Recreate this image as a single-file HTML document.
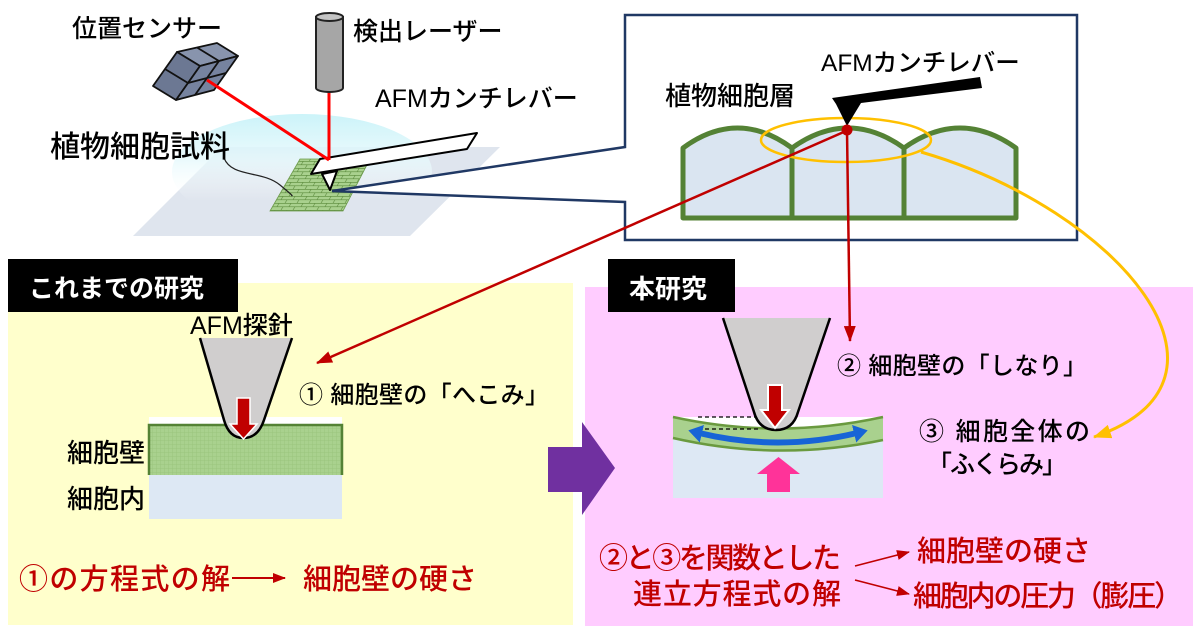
<!DOCTYPE html>
<html><head><meta charset="utf-8"><title>AFM</title>
<style>
html,body{margin:0;padding:0;background:#fff;width:1200px;height:629px;overflow:hidden}
svg{display:block}
text{font-family:"Liberation Sans","Noto Sans CJK JP",sans-serif;fill:#000;font-weight:500}
.r{fill:#c00000}
.w{fill:#fff;font-weight:bold}
</style></head><body>
<svg width="1200" height="629" viewBox="0 0 1200 629" xmlns="http://www.w3.org/2000/svg">
<defs>
<linearGradient id="glow" x1="0" y1="0" x2="0" y2="1">
<stop offset="0" stop-color="#c6f2f8"/>
<stop offset="0.4" stop-color="#e6f9fc" stop-opacity="0.9"/>
<stop offset="0.75" stop-color="#ffffff" stop-opacity="0"/>
</linearGradient>
<pattern id="brick" width="12" height="7" patternUnits="userSpaceOnUse" patternTransform="skewX(-30)">
<rect width="12" height="7" fill="#a9d18e"/>
<path d="M0,0.3H12M0,3.8H12M0.3,0.3V3.8M6.3,3.8V7" stroke="#5b8a3c" stroke-width="0.7" fill="none"/>
</pattern>
<pattern id="grid" width="4" height="4" patternUnits="userSpaceOnUse">
<rect width="4" height="4" fill="#a9d18e"/>
<path d="M0,0.25H4M0.25,0V4" stroke="#9bc57d" stroke-width="0.5"/>
</pattern>
<marker id="mr" markerUnits="userSpaceOnUse" viewBox="0 0 16 12" markerWidth="16" markerHeight="12" refX="15" refY="6" orient="auto"><path d="M0,0L16,6L0,12Z" fill="#c00000"/></marker>
<marker id="mr2" markerUnits="userSpaceOnUse" viewBox="0 0 13 10" markerWidth="13" markerHeight="10" refX="12" refY="5" orient="auto"><path d="M0,0L13,5L0,10Z" fill="#c00000"/></marker>
<marker id="my" markerUnits="userSpaceOnUse" viewBox="0 0 18 14" markerWidth="18" markerHeight="14" refX="17" refY="7" orient="auto"><path d="M0,0L18,7L0,14Z" fill="#ffc000"/></marker>
<marker id="mb" markerUnits="userSpaceOnUse" viewBox="0 0 14 18" markerWidth="14" markerHeight="18" refX="3" refY="9" orient="auto-start-reverse"><path d="M0,0L14,9L0,18Z" fill="#1764d6"/></marker>
</defs>

<!-- panels -->
<rect x="8" y="283" width="565" height="342" fill="#ffffcc"/>
<rect x="585" y="287" width="608" height="339" fill="#ffccff"/>
<rect x="8" y="259" width="230" height="53" fill="#000"/>
<text x="29" y="297" font-size="25" class="w">これまでの研究</text>
<rect x="608" y="259" width="127" height="53" fill="#000"/>
<text x="629" y="298" font-size="26" class="w">本研究</text>
<polygon points="548,447 582,447 582,422 615,468 582,515 582,492 548,492" fill="#7030a0"/>

<!-- top-left scene -->
<polygon points="222,147 500,147 410,236 133,236" fill="#dfe5ee"/>
<ellipse cx="302" cy="172" rx="130" ry="58" fill="url(#glow)" opacity="0.9"/>
<polygon points="300,159 370,159 343,211 270,211" fill="url(#brick)" stroke="#6b9a4a" stroke-width="0.8"/>
<path d="M224,158 C232,178 262,170 280,185 S290,194 292,196" fill="none" stroke="#222" stroke-width="1.2"/>

<!-- callout box -->
<polygon points="625,15 1077,15 1077,240 625,240 625,202 332,191 625,147" fill="#fff" stroke="#203864" stroke-width="2.5" stroke-linejoin="miter"/>

<!-- cantilever -->
<polygon points="320,159 477,133 467,149 311,174" fill="#fff" stroke="#000" stroke-width="2" stroke-linejoin="round"/>
<polygon points="322,174 337,171 330,190" fill="#fff" stroke="#000" stroke-width="2" stroke-linejoin="round"/>

<!-- lasers -->
<line x1="329" y1="92" x2="329" y2="160" stroke="#ff0000" stroke-width="3"/>

<!-- cube -->
<g stroke="#111" stroke-width="1.8" stroke-linejoin="round">
<polygon points="177,52 217,43 238,56 200,66" fill="#8894ad"/>
<polygon points="177,52 200,66 176,100 153,86" fill="#6c7893"/>
<polygon points="200,66 238,56 214,90 176,100" fill="#76839f"/>
<path d="M197,47.5 L219,61 M165,69 L188,83 L226,73 M219,61 L195,95" fill="none"/>
</g>
<line x1="207" y1="80" x2="329" y2="160" stroke="#ff0000" stroke-width="3"/>

<!-- cylinder -->
<path d="M316,17 L316,88 A13.5,4 0 0 0 343,88 L343,17 Z" fill="#a6a6a6" stroke="#222" stroke-width="2"/>
<ellipse cx="329.5" cy="17" rx="13.5" ry="4" fill="#c4c4c4" stroke="#222" stroke-width="2"/>

<text x="72" y="37" font-size="25">位置センサー</text>
<text x="353" y="40" font-size="25">検出レーザー</text>
<text x="375" y="107" font-size="25">AFMカンチレバー</text>
<text x="50" y="157" font-size="30">植物細胞試料</text>

<!-- box content -->
<path d="M683,218 L683,148 Q737.5,108 792,148 Q848,108 904,148 Q960,108 1016,148 L1016,218 Z" fill="#dae5f1" stroke="#548235" stroke-width="5" stroke-linejoin="round"/>
<path d="M792,148V218 M904,148V218" stroke="#548235" stroke-width="5"/>
<ellipse cx="846" cy="140" rx="85" ry="22" fill="none" stroke="#ffc000" stroke-width="2.5"/>
<polygon points="832,98 980,77 982,88 861,103 847,126 836,104" fill="#000"/>
<text x="665" y="105" font-size="26">植物細胞層</text>
<text x="821" y="71" font-size="24.5">AFMカンチレバー</text>

<!-- bottom-left illustration -->
<rect x="149" y="417" width="193" height="8" fill="#fff"/>
<rect x="149" y="475" width="193" height="44" fill="#dde8f4"/>
<rect x="149" y="425" width="193" height="50" fill="url(#grid)"/>
<path d="M149,475V425H342V475" fill="none" stroke="#548235" stroke-width="2.5"/>
<path d="M200,338 L292,338 L264,420 Q258,438 243.5,438 Q229,438 224,420 Z" fill="#d0cece"/>
<path d="M200,338 L224,420 Q229,438 243.5,438 Q258,438 264,420 L292,338" fill="none" stroke="#000" stroke-width="2.5"/>
<polygon points="237,398 250,398 250,424 257,424 243.5,439 230,424 237,424" fill="#c00000" stroke="#fff" stroke-width="1.5"/>
<text x="190" y="334" font-size="25">AFM探針</text>
<text x="299" y="403" font-size="24" textLength="250">① 細胞壁の「へこみ」</text>
<text x="145" y="462" font-size="26" text-anchor="end">細胞壁</text>
<text x="145" y="508" font-size="26" text-anchor="end">細胞内</text>
<text x="19" y="589" font-size="29" class="r" textLength="211">①の方程式の解</text>
<line x1="232" y1="578" x2="285" y2="578" stroke="#c00000" stroke-width="2" marker-end="url(#mr2)"/>
<text x="303" y="589" font-size="29" class="r">細胞壁の硬さ</text>

<!-- bottom-right illustration -->
<rect x="673" y="417" width="210" height="81" fill="#dde8f4"/>
<path d="M673,417 Q778,440 883,417 Z" fill="#fff"/>
<path d="M673,417 Q778,440 883,417 L883,440 Q778,462 673,438 Z" fill="#a9d18e"/>
<path d="M673,417 Q778,440 883,417 M883,440 Q778,462 673,438" fill="none" stroke="#6a9a3f" stroke-width="2.5"/>
<path d="M698,417 H755 M698,429 H760" stroke="#000" stroke-width="1.2" stroke-dasharray="4,3"/>
<path d="M723,318 L830,318 L798,412 Q793,430 776,430 Q759,430 754,412 Z" fill="#d0cece"/>
<path d="M723,318 L754,412 Q759,430 776,430 Q793,430 798,412 L830,318" fill="none" stroke="#000" stroke-width="2.5"/>
<polygon points="768,385 782,385 782,410 789,410 775,428 761,410 768,410" fill="#c00000" stroke="#fff" stroke-width="2"/>
<path d="M699,433 Q778,452 857,433" fill="none" stroke="#1764d6" stroke-width="6" marker-start="url(#mb)" marker-end="url(#mb)"/>
<polygon points="767,492 767,474 757,474 778.5,457 800,474 790,474 790,492" fill="#ff3399"/>

<text x="837" y="374" font-size="24" textLength="250">② 細胞壁の「しなり」</text>
<text x="919" y="440" font-size="25" textLength="171">③ 細胞全体の</text>
<text x="927" y="473" font-size="25" textLength="140">「ふくらみ」</text>

<text x="599" y="568" font-size="29" class="r" textLength="242">②と③を関数とした</text>
<text x="633" y="604" font-size="29" class="r" textLength="208">連立方程式の解</text>
<text x="917" y="561" font-size="29" class="r">細胞壁の硬さ</text>
<text x="913" y="606" font-size="29" class="r" textLength="270">細胞内の圧力（膨圧）</text>
<line x1="855" y1="566" x2="909" y2="552" stroke="#c00000" stroke-width="1.6" marker-end="url(#mr2)"/>
<line x1="855" y1="580" x2="909" y2="594" stroke="#c00000" stroke-width="1.6" marker-end="url(#mr2)"/>

<!-- long connectors -->
<path d="M921,152 C1120,210 1260,380 1094,437" fill="none" stroke="#ffc000" stroke-width="3" marker-end="url(#my)"/>
<line x1="846" y1="131" x2="317" y2="363" stroke="#c00000" stroke-width="2.5" marker-end="url(#mr)"/>
<line x1="847" y1="131" x2="850" y2="341" stroke="#c00000" stroke-width="2.5" marker-end="url(#mr)"/>
<circle cx="847" cy="130" r="5.5" fill="#c00000"/>
</svg>
</body></html>
